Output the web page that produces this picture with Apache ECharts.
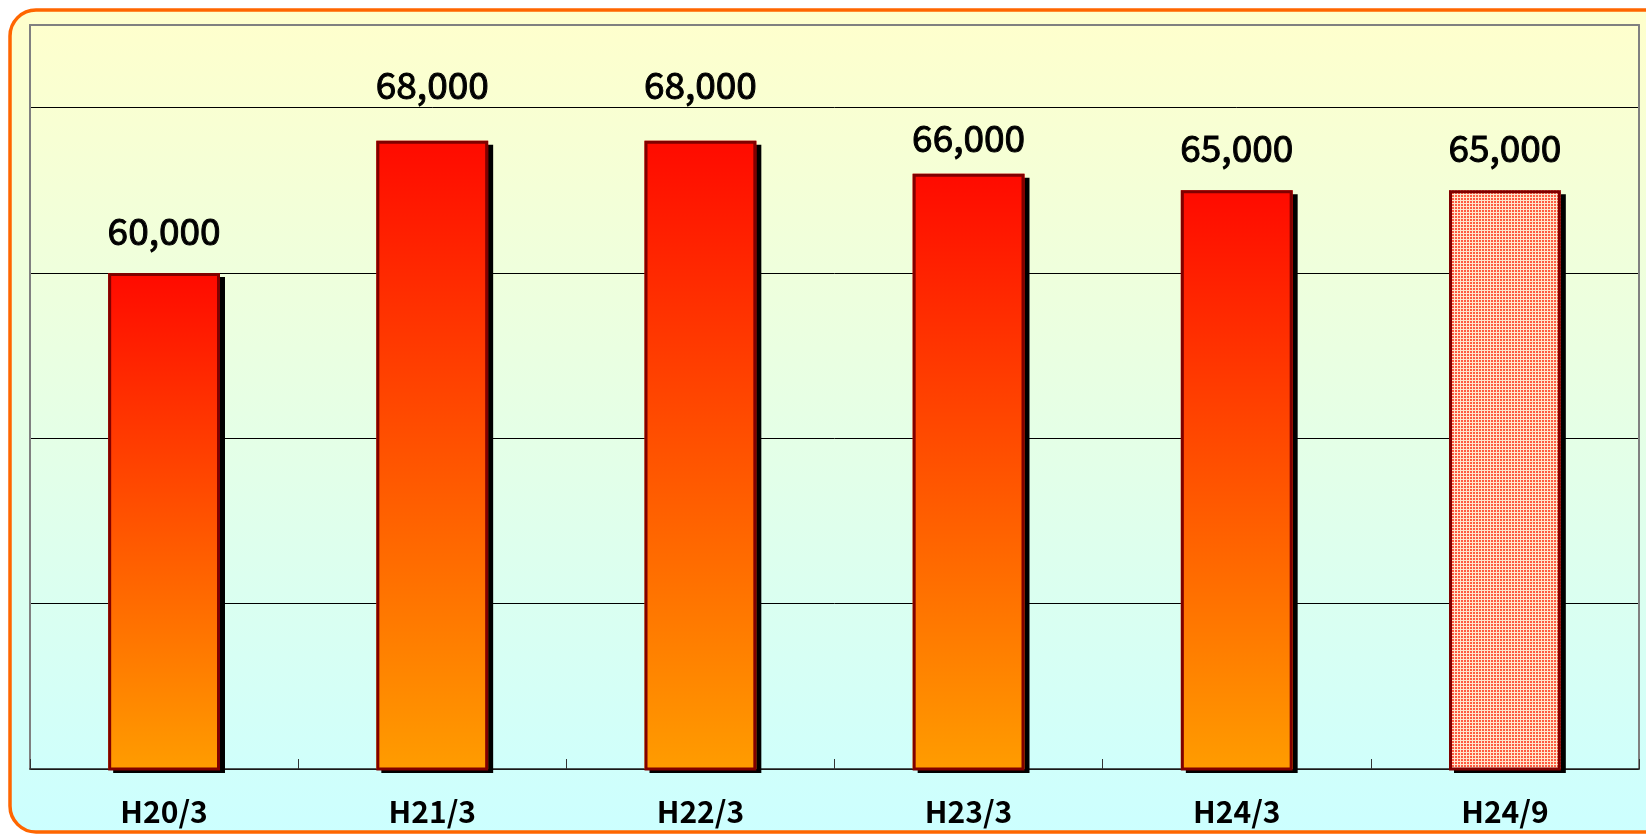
<!DOCTYPE html>
<html>
<head>
<meta charset="utf-8">
<script src="https://cdn.jsdelivr.net/npm/echarts@6/dist/echarts.min.js"></script>
<style>
html,body{margin:0;padding:0;background:#ffffff;}
#c{width:1646px;height:834px;}
</style>
</head>
<body>
<div id="c"></div>
<script>
var categories = ['H20/3', 'H21/3', 'H22/3', 'H23/3', 'H24/3', 'H24/9'];
var values = [60000, 68000, 68000, 66000, 65000, 65000];
var patternIndex = [5];
// label gap above each bar (style only)
var labelGap = [24, 37, 37, 17, 24, 24];

var yMin = 30000, yMax = 75000, yInterval = 10000;

var chart = echarts.init(document.getElementById('c'));

var pc = document.createElement('canvas');
pc.width = 3; pc.height = 3;
var pctx = pc.getContext('2d');
pctx.fillStyle = '#FFE6CC';
pctx.fillRect(0, 0, 3, 3);
pctx.fillStyle = '#FF5A40';
pctx.fillRect(0, 0, 2, 2);

var barGrad = new echarts.graphic.LinearGradient(0, 0, 0, 1, [
  {offset: 0, color: '#FF0A00'},
  {offset: 1, color: '#FF9C00'}
]);

var fillData = values.map(function (v, i) {
  var item = {value: v};
  if (patternIndex.indexOf(i) >= 0) {
    item.itemStyle = {color: {image: pc, repeat: 'repeat'}};
  }
  return item;
});
var borderData = values.map(function (v, i) {
  return {value: v, label: {distance: labelGap[i]}};
});

var font = '"Noto Sans CJK JP", "Noto Sans", sans-serif';

chart.setOption({
  animation: false,
  graphic: [{
    type: 'rect',
    z: -10,
    silent: true,
    shape: {x: 10, y: 10, width: 1660, height: 822, r: 26},
    style: {
      fill: new echarts.graphic.LinearGradient(0, 0, 0, 1, [
        {offset: 0, color: '#FFFFCC'},
        {offset: 1, color: '#CCFFFF'}
      ]),
      stroke: '#FF6600',
      lineWidth: 3.5
    }
  }],
  grid: {left: 30, right: 7, top: 25, bottom: 65, show: false},
  xAxis: [{
    type: 'category',
    data: categories,
    axisLine: {show: true, lineStyle: {color: '#222222', width: 1.5}},
    axisTick: {show: true, inside: true, length: 10, lineStyle: {color: '#333333'}},
    axisLabel: {
      color: '#000000', fontSize: 30, fontWeight: 'bold', fontFamily: font, margin: 28
    }
  }, {
    type: 'category',
    position: 'top',
    data: categories,
    axisLine: {show: true, lineStyle: {color: '#808080', width: 2}},
    axisTick: {show: false},
    axisLabel: {show: false}
  }],
  yAxis: [{
    type: 'value',
    min: yMin, max: yMax, interval: yInterval,
    axisLine: {show: true, lineStyle: {color: '#808080', width: 2}},
    axisTick: {show: false},
    axisLabel: {show: false},
    splitLine: {show: true, lineStyle: {color: '#000000', width: 1}}
  }, {
    type: 'value',
    position: 'right',
    min: yMin, max: yMax, interval: yInterval,
    axisLine: {show: true, lineStyle: {color: '#808080', width: 2}},
    axisTick: {show: false},
    axisLabel: {show: false},
    splitLine: {show: false}
  }],
  series: [{
    type: 'bar',
    data: fillData,
    barWidth: '41.7%',
    barGap: '-100%',
    itemStyle: {
      color: barGrad,
      borderWidth: 0,
      shadowColor: '#000000',
      shadowOffsetX: 5,
      shadowOffsetY: 4,
      shadowBlur: 0
    },
    label: {show: false}
  }, {
    type: 'bar',
    data: borderData,
    barWidth: '41.7%',
    barGap: '-100%',
    itemStyle: {
      color: 'rgba(0,0,0,0)',
      borderColor: '#800000',
      borderWidth: 3
    },
    label: {
      show: true,
      position: 'top',
      color: '#000000',
      fontSize: 37,
      fontWeight: 'normal',
      fontFamily: font,
      textBorderColor: '#000000',
      textBorderWidth: 1,
      formatter: function (p) { return echarts.format.addCommas(p.value); }
    }
  }]
});
</script>
</body>
</html>
